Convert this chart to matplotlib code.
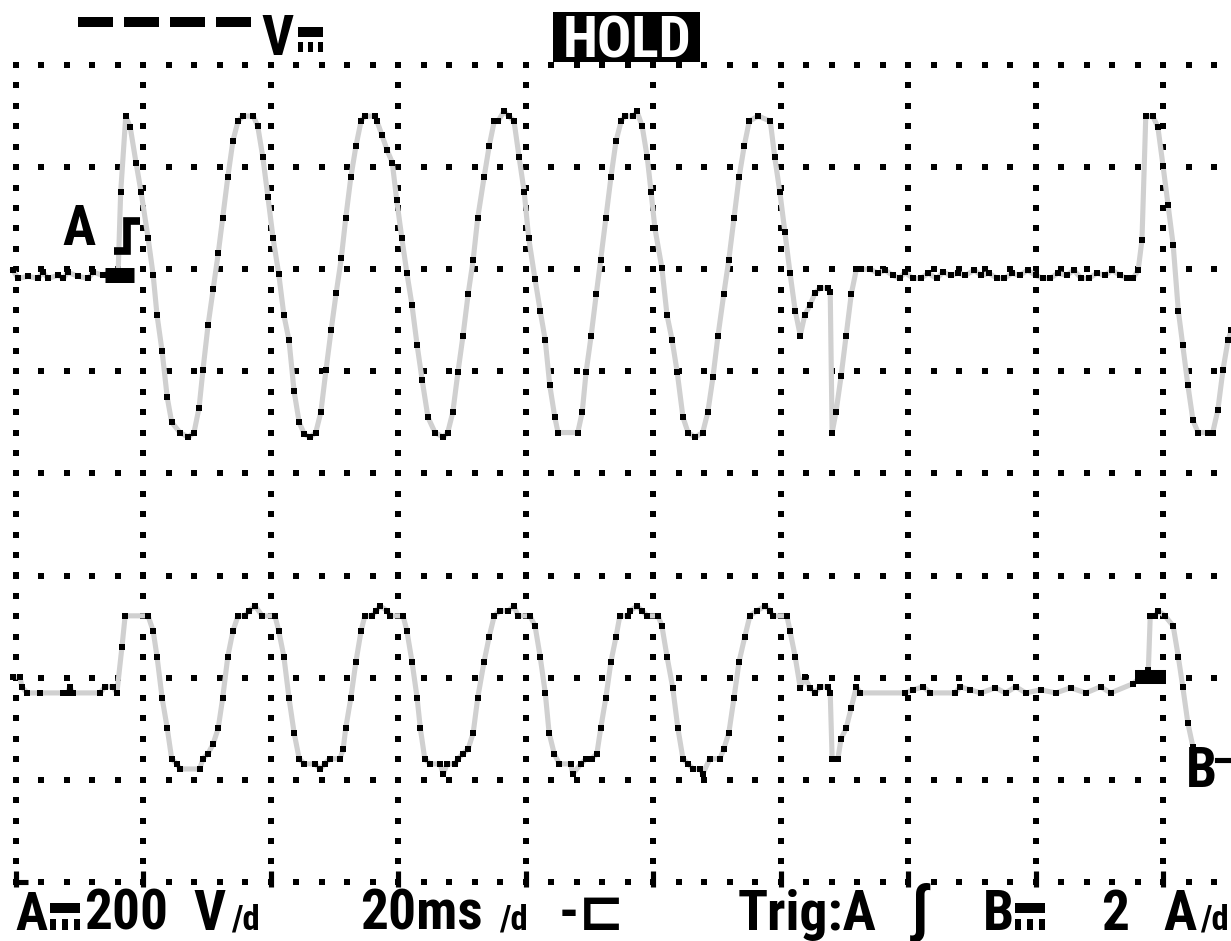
import numpy as np
import matplotlib
matplotlib.use("Agg")
import matplotlib.pyplot as plt
from matplotlib import font_manager
from matplotlib.ft2font import FT2Font
from matplotlib.patches import Rectangle

# channel A: mains voltage, time in ms, value in V
a_t = [-0.4, 0.4, 2.0, 3.5, 4.3, 5.1, 6.7, 7.5, 8.2, 9.8, 11.4, 12.2, 13.7, 14.8, 16.1,
       16.5, 17.3, 18.0, 18.9, 19.7, 20.8, 21.6, 22.2, 23.0, 23.8, 24.5, 25.8, 27.1, 28.0,
       28.8, 29.4, 30.2, 31.0, 31.8, 32.5, 33.3, 34.1, 34.9, 35.7, 37.3, 38.0, 38.8, 39.6,
       40.4, 41.3, 42.1, 42.9, 43.7, 44.5, 45.3, 46.2, 47.1, 47.9, 48.7, 49.5, 50.3, 51.1,
       51.8, 52.6, 53.4, 54.2, 54.8, 56.4, 56.7, 57.5, 58.3, 59.1, 59.8, 60.6, 61.4, 62.2,
       63.0, 63.8, 64.7, 65.8, 67.1, 67.8, 68.6, 69.4, 70.2, 71.0, 71.8, 72.5, 73.5, 74.3,
       75.1, 75.7, 76.6, 77.4, 78.2, 79.0, 79.8, 80.5, 81.5, 82.3, 83.1, 83.8, 84.6, 85.1,
       88.2, 88.9, 89.5, 90.3, 91.1, 91.8, 92.6, 93.4, 94.2, 95.0, 95.6, 96.9, 97.5, 98.3,
       99.1, 99.7, 100.3, 101.4, 102.2, 103.0, 103.8, 104.7, 105.5, 106.6, 107.8, 108.6,
       109.4, 110.2, 111.1, 111.9, 112.7, 113.5, 114.3, 115.1, 116.5, 118.4, 119.1, 119.9,
       120.7, 121.5, 122.3, 123.1, 123.8, 124.6, 125.4, 126.2, 127.4, 127.8, 128.1, 128.7,
       129.5, 130.3, 131.1, 131.9, 132.7, 134.1, 135.3, 136.4, 137.6, 138.7, 139.5, 140.8,
       142.0, 143.2, 144.5, 145.5, 146.7, 147.9, 149.0, 150.4, 151.5, 152.7, 154.0, 155.1,
       156.3, 157.5, 158.8, 160.0, 161.2, 162.3, 163.5, 164.9, 166.0, 167.2, 168.4, 169.6,
       170.9, 172.0, 173.3, 174.3, 175.3, 176.1, 176.7, 177.3, 178.4, 179.2, 180.0, 180.8,
       181.6, 182.4, 183.1, 183.9, 184.7, 185.5, 187.0, 187.8, 188.6, 189.4, 190.2, 190.7]
a_v = [8, -8, -4, -8, 4, -8, -2, -8, 4, -4, -8, 4, -2, 4, 4,
       161, 310, 288, 219, 161, 71, -2, -80, -151, -241, -290, -310, -319, -310,
       -261, -188, -100, -29, 41, 110, 190, 261, 300, 310, 310, 290, 229, 151,
       71, 0, -80, -129, -229, -290, -313, -319, -310, -270, -188, -110, -37, 31,
       110, 190, 251, 300, 310, 310, 300, 272, 243, 219, 145, 71, 2, -61,
       -139, -208, -280, -310, -319, -310, -270, -192, -120, -39, 29, 110, 190, 251,
       300, 300, 319, 310, 300, 229, 161, 71, -10, -71, -129, -217, -280, -310,
       -310, -270, -192, -120, -39, 29, 110, 190, 261, 300, 310, 310, 319, 290,
       229, 161, 90, 12, -80, -129, -192, -280, -310, -319, -310, -270,
       -202, -120, -39, 29, 110, 190, 251, 300, 310, 300, 229, 161,
       82, 2, -71, -120, -80, -61, -37, -27, -27, -35, -310, -270,
       -200, -120, -39, 10, 10, 10, 2, 8, -2, -8, 4, -8,
       -8, 2, -8, 4, -2, 2, -2, 8, -2, 2, -8, -8,
       2, -2, 8, -2, -8, -8, 2, -2, 8, -8, -8, 2,
       -2, 8, -2, -8, -8, 8, 67, 310, 310, 288, 213, 135,
       57, -71, -139, -217, -286, -310, -310, -310, -266, -188, -129, -110]

# channel B: current, time in ms, value in A
b_t = [-0.4, 0.7, 1.0, 1.8, 3.9, 7.5, 8.2, 8.5, 9.0, 13.3, 14.0, 15.3, 15.9, 16.7, 17.2,
       20.8, 21.6, 22.2, 23.0, 23.8, 24.5, 25.3, 25.8, 28.9, 29.4, 30.2, 31.0, 31.8, 32.5,
       33.3, 34.1, 34.9, 36.0, 36.6, 37.6, 38.7, 40.7, 41.3, 42.1, 42.9, 43.7, 44.5, 45.3,
       47.0, 47.8, 48.5, 49.3, 50.9, 51.4, 51.8, 52.6, 53.4, 54.2, 54.8, 55.9, 56.6, 57.2,
       58.3, 58.8, 60.8, 61.4, 62.2, 63.0, 63.5, 64.2, 65.0, 66.6, 67.1, 67.7, 69.0, 69.4,
       70.2, 71.0, 71.8, 72.5, 73.5, 74.3, 75.1, 76.0, 77.3, 78.2, 78.8, 80.7, 81.5, 82.3,
       83.1, 83.7, 84.5, 85.3, 87.1, 87.4, 88.7, 89.5, 90.4, 91.2, 91.8, 92.6, 93.4, 94.2,
       94.8, 96.1, 96.4, 97.5, 98.3, 99.1, 100.8, 101.4, 102.2, 103.1, 103.9, 104.7, 105.5,
       106.3, 107.4, 107.8, 108.9, 110.5, 111.1, 111.9, 112.7, 113.5, 114.4, 115.2, 116.3,
       117.6, 118.4, 118.8, 121.0, 121.5, 122.3, 123.1, 123.8, 124.6, 125.4, 126.2, 127.4,
       127.8, 128.1, 129.0, 129.5, 130.3, 131.1, 131.9, 132.5, 139.5, 140.8, 142.4, 143.5,
       147.4, 148.2, 149.8, 151.4, 153.7, 155.3, 156.9, 158.5, 160.8, 163.2, 165.5, 167.9,
       170.2, 171.8, 175.3, 177.7, 178.0, 178.8, 179.2, 180.3, 181.6, 182.4, 183.1, 183.9,
       184.7, 185.3]
b_i = [0.29, 0.29, 0.10, -0.02, -0.02, -0.02, -0.02, 0.10, -0.02, -0.02, 0.10, 0.10, -0.02, 0.88, 1.49,
       1.49, 1.19, 0.69, -0.12, -0.71, -1.31, -1.41, -1.51, -1.51, -1.31, -1.21, -1.02, -0.71, -0.12,
       0.69, 1.19, 1.49, 1.49, 1.59, 1.68, 1.49, 1.49, 1.19, 0.69, -0.12, -0.80, -1.31, -1.41,
       -1.41, -1.51, -1.41, -1.31, -1.31, -1.12, -0.71, -0.12, 0.59, 1.19, 1.49, 1.49, 1.59, 1.68,
       1.59, 1.49, 1.49, 1.19, 0.59, -0.12, -0.71, -1.31, -1.41, -1.41, -1.61, -1.41, -1.41, -1.31,
       -1.21, -1.12, -0.80, -0.12, 0.59, 1.08, 1.49, 1.59, 1.59, 1.68, 1.49, 1.49, 1.29, 0.69,
       -0.02, -0.80, -1.21, -1.41, -1.41, -1.61, -1.41, -1.31, -1.31, -1.21, -0.71, -0.12, 0.59, 1.08,
       1.49, 1.49, 1.59, 1.68, 1.59, 1.49, 1.49, 1.29, 0.69, 0.08, -0.71, -1.31, -1.41,
       -1.51, -1.51, -1.61, -1.31, -1.31, -1.12, -0.80, -0.12, 0.59, 1.08, 1.49, 1.59,
       1.68, 1.59, 1.49, 1.49, 1.19, 0.69, 0.08, 0.29, 0.08, -0.02, 0.10, 0.10,
       -0.02, -1.31, -1.31, -0.92, -0.71, -0.31, 0.10, -0.02, -0.02, 0.04, 0.10, -0.02,
       -0.02, 0.10, 0.04, -0.02, 0.08, -0.02, 0.10, -0.02, 0.04, -0.02, 0.08, -0.02,
       0.10, -0.02, 0.16, 0.43, 1.49, 1.49, 1.59, 1.49, 1.29, 0.69, 0.10, -0.61,
       -1.08, -1.33]

ms_per_div = 20
v_per_div = 200
amp_per_div = 2
a_ground = 1.95    # screen division of the A zero line
b_ground = -2.14   # screen division of the B zero line

GRAY = '#d0d0d0'
PIX = 3.7  # one lcd pixel in points


def pick_font():
    fonts = font_manager.fontManager.ttflist
    names = {f.name for f in fonts}
    for name in ['Liberation Sans Narrow', 'Arial Narrow', 'Roboto Condensed']:
        if name in names:
            return name, 'normal'
    for f in fonts:
        if 'condensed' in str(f.stretch) and f.name in ('DejaVu Sans', 'Noto Sans', 'Open Sans'):
            return f.name, f.stretch
    return 'DejaVu Sans', 'normal'


def family_with(ch):
    # first installed family that really has the glyph
    wanted = ['DejaVu Sans', 'DejaVu Sans Mono', 'Noto Sans', 'Liberation Sans', 'Roboto',
              'Open Sans', 'Lato', 'Inter', 'Noto Sans CJK SC', 'Noto Sans CJK JP']
    for f in font_manager.fontManager.ttflist:
        if f.name not in wanted:
            continue
        try:
            if ord(ch) in FT2Font(f.fname).get_charmap():
                return f.name
        except Exception:
            pass
    return None


FONT, STRETCH = pick_font()
DC = '\u2393'
DC_FONT = family_with(DC)


def px(x, y):
    # screen pixel -> divisions (for placing labels)
    return (x - 15.5) / 127.5, 4 - (y - 65) / 102.1


fig = plt.figure(figsize=(12.31, 9.41), dpi=100)
ax = fig.add_axes([0, 0, 1, 1])
ax.set_xlim(px(0, 0)[0], px(1231, 0)[0])
ax.set_ylim(px(0, 941)[1], px(0, 0)[1])
ax.axis('off')
renderer = fig.canvas.get_renderer()


def label(x0, x1, ybase, s, size=40, color='black', family=None):
    fam = [family] if family else [FONT, 'DejaVu Sans']
    t = ax.text(*px((x0 + x1) / 2, ybase), s, ha='center', va='baseline', fontsize=size,
                fontweight='bold', family=fam, fontstretch=STRETCH, color=color, zorder=7)
    w = t.get_window_extent(renderer).width
    if w > (x1 - x0):
        t.set_fontsize(size * (x1 - x0) / w)
    return t


def dc_mark(x0, x1, y0, y1):
    # "direct current" sign: a bar over three short dashes
    if DC_FONT:
        label(x0, x1, y1, DC, size=30, family=DC_FONT)
        return
    h = y1 - y0
    ax.add_patch(Rectangle(px(x0, y0 + 0.38 * h), (x1 - x0) / 127.5, 0.38 * h / 102.1,
                           color='black', lw=0, zorder=7))
    w = (x1 - x0) / 5
    for k in range(3):
        xs = x0 + k * 2 * w
        ax.add_patch(Rectangle(px(xs, y1), w / 127.5, 0.4 * h / 102.1, color='black', lw=0, zorder=7))


# dotted graticule
dot = dict(marker='s', ms=PIX, mew=0, color='black', ls='none')
row_x = np.arange(0, 9.6, 0.2)
for r in range(-4, 5):
    ax.plot(row_x, np.full_like(row_x, r), **dot)
col_y = np.arange(-4, 4.01, 0.2)
for c in range(10):
    ax.plot(np.full_like(col_y, c), col_y, **dot)
for c in range(10):
    ax.plot([c, c], [px(0, 871)[1], px(0, 887)[1]], color='black', lw=PIX, solid_capstyle='butt')
ax.plot([px(13, 0)[0], px(28, 0)[0]], [-4, -4], color='black', lw=PIX, solid_capstyle='butt')

# traces
ta = np.array(a_t) / ms_per_div
ya = np.array(a_v) / v_per_div + a_ground
tb = np.array(b_t) / ms_per_div
yb = np.array(b_i) / amp_per_div + b_ground
for t, y in [(ta, ya), (tb, yb)]:
    ax.plot(t, y, color=GRAY, lw=PIX, zorder=3)
    ax.plot(t, y, marker='s', ms=PIX, mew=0, color='black', ls='none', zorder=4)

# zero / level markers
x0, y0 = px(105, 274.5)
x1, _ = px(134, 0)
ax.plot([x0, x1], [y0, y0], color='black', lw=10.8, solid_capstyle='butt', zorder=5)
x0, y0 = px(1135, 677)
x1, _ = px(1166, 0)
ax.plot([x0, x1], [y0, y0], color='black', lw=10.1, solid_capstyle='butt', zorder=5)

# channel labels
label(62, 95, 245, 'A')
edge = [px(114, 251), px(127, 251), px(127, 221), px(140, 221)]
ax.plot([p[0] for p in edge], [p[1] for p in edge], color='black', lw=5.5,
        solid_joinstyle='miter', solid_capstyle='butt', zorder=6)
ax.add_patch(Rectangle(px(1186, 787), 31 / 127.5, 40 / 102.1, color='white', lw=0, zorder=6))
label(1185, 1218, 787, 'B')
ax.plot([px(1217, 0)[0], px(1231, 0)[0]], [px(0, 760)[1]] * 2, color='black', lw=PIX, zorder=6)

# top status line
for x in [78, 124, 170, 216]:
    ax.plot([px(x, 0)[0], px(x + 35, 0)[0]], [px(0, 22)[1]] * 2, color='black', lw=7.2,
            solid_capstyle='butt')
label(260, 294, 55, 'V')
dc_mark(298, 323, 27, 52)
ax.add_patch(Rectangle(px(553, 62), 147 / 127.5, 50 / 102.1, color='black', lw=0, zorder=6))
label(558, 696, 57, 'HOLD', size=41, color='white')

# bottom settings line
base = 930
label(15, 47, base, 'A')
dc_mark(50, 80, 903, base)
label(84, 168, base, '200')
label(193, 227, base, 'V')
label(228, 263, base, '/d', size=25)
label(350, 492, base, '20ms')
label(495, 531, base, '/d', size=25)
label(558, 627, base, '-\u228f')
label(710, 904, base, 'Trig:A')
label(902, 938, base, '\u0283', size=44)
label(983, 1014, base, 'B')
dc_mark(1015, 1045, 903, base)
label(1098, 1132, base, '2')
label(1163, 1197, base, 'A')
label(1198, 1231, base, '/d', size=25)

fig.savefig('out.png', dpi=100, facecolor='white')
